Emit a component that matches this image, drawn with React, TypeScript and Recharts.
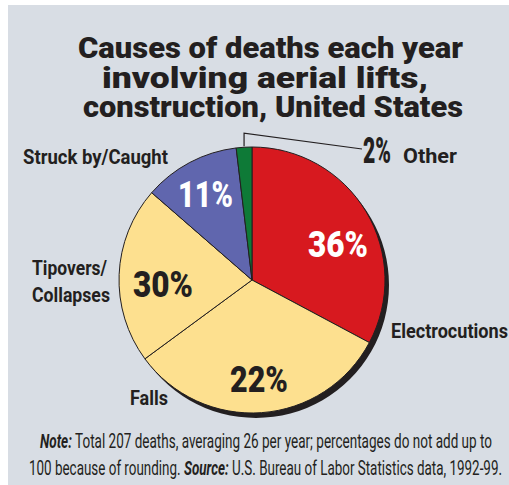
import { PieChart, Pie, Cell } from 'recharts';

// slice order: clockwise from 12 o'clock
const causes = ['Electrocutions', 'Falls', 'Tipovers/\nCollapses', 'Struck by/Caught', 'Other'];
// percentages printed on the graphic
const printedPct = [36, 22, 30, 11, 2];
// slice sizes as they are actually drawn in the graphic (measured angles, % of circle)
const drawnShare = [32.8, 32.1, 21.5, 11.7, 1.9];

const sliceColors = ['#d7191f', '#fde08f', '#fde08f', '#6066ae', '#0e7a37'];
const pctColors = ['#ffffff', '#231f20', '#231f20', '#ffffff', '#231f20'];

const INK = '#231f20';
const BG = '#d8dde4';
const HEAVY = 'Roboto, "Liberation Sans", Arial, sans-serif';
const NARROW = '"Liberation Sans Narrow", Roboto, "Liberation Sans", Arial, sans-serif';

const W = 501;
const H = 480;
const CX = 244;
const CY = 275;
const R = 133;

// label spots relative to pie centre: left x, baseline, forced text width
const pctSpot = [
  { dx: 56, dy: -23, w: 60 },
  { dx: -22, dy: 112, w: 58 },
  { dx: -119, dy: 17, w: 60 },
  { dx: -74, dy: -73, w: 55 },
  { dx: 111, dy: -117, w: 28 },
];
const nameSpot = [
  { dx: 139, dy: 58, w: [117] },
  { dx: -122, dy: 125, w: [38] },
  { dx: -220, dy: -5, w: [75, 78] },
  { dx: -229, dy: -116, w: [145] },
  { dx: 151, dy: -117, w: [54] },
];

const chartData = causes.map((name, i) => ({
  name,
  value: drawnShare[i],
  pct: printedPct[i],
}));

const shadowData = [{ name: 'shadow', value: 1 }];

const RAD = Math.PI / 180;

function renderLabel(props: any) {
  const { cx, cy, index, midAngle, outerRadius } = props;
  const p = pctSpot[index];
  const n = nameSpot[index];
  const lines = String(causes[index]).split('\n');
  let leader = null;
  if (index === 4) {
    const sx = cx + outerRadius * Math.cos(-midAngle * RAD);
    const sy = cy + outerRadius * Math.sin(-midAngle * RAD);
    leader = (
      <polyline
        points={`${sx},${sy - 1} ${sx},${sy - 14} ${cx + p.dx - 1},${cy + p.dy - 14}`}
        fill="none"
        stroke={INK}
        strokeWidth={1.2}
      />
    );
  }
  return (
    <g key={`lbl-${index}`}>
      {leader}
      <text
        x={cx + p.dx}
        y={cy + p.dy}
        fill={pctColors[index]}
        fontFamily={HEAVY}
        fontWeight={900}
        fontSize={36}
        textLength={p.w}
        lengthAdjust="spacingAndGlyphs"
      >
        {printedPct[index]}%
      </text>
      {lines.map((ln, j) => (
        <text
          key={j}
          x={cx + n.dx}
          y={cy + n.dy + j * 27}
          fill={INK}
          fontFamily={NARROW}
          fontWeight={700}
          fontSize={index === 4 ? 20 : 21}
          textLength={n.w[j]}
          lengthAdjust="spacingAndGlyphs"
        >
          {ln}
        </text>
      ))}
    </g>
  );
}

export default function App() {
  return (
    <div style={{ position: 'fixed', left: 8, top: 5, width: W, height: H, background: BG }}>
      <PieChart width={W} height={H} margin={{ top: 0, right: 0, bottom: 0, left: 0 }}>
        <Pie
          data={shadowData}
          dataKey="value"
          cx={CX + 4}
          cy={CY + 5}
          outerRadius={R}
          startAngle={90}
          endAngle={-270}
          fill={INK}
          stroke="none"
          isAnimationActive={false}
        />
        <Pie
          data={chartData}
          dataKey="value"
          nameKey="name"
          cx={CX}
          cy={CY}
          outerRadius={R}
          startAngle={90}
          endAngle={-270}
          stroke={INK}
          strokeWidth={1}
          label={renderLabel}
          labelLine={false}
          isAnimationActive={false}
        >
          {chartData.map((d, i) => (
            <Cell key={d.name} fill={sliceColors[i]} />
          ))}
        </Pie>
      </PieChart>
      <svg
        width={W}
        height={H}
        style={{ position: 'absolute', left: 0, top: 0, pointerEvents: 'none' }}
      >
        <g fill={INK} fontFamily={HEAVY} fontWeight={900} fontSize={30}>
          <text x={70} y={53} textLength={385} lengthAdjust="spacingAndGlyphs">
            Causes of deaths each year
          </text>
          <text x={94} y={83} textLength={326} lengthAdjust="spacingAndGlyphs">
            involving aerial lifts,
          </text>
          <text x={75} y={112} textLength={380} lengthAdjust="spacingAndGlyphs">
            construction, United States
          </text>
        </g>
        <g fill={INK} fontFamily={NARROW} fontWeight={400} fontSize={20}>
          <text x={32} y={443} textLength={452} lengthAdjust="spacingAndGlyphs">
            <tspan fontWeight={700} fontStyle="italic">Note:</tspan> Total 207 deaths, averaging 26 per
            year; percentages do not add up to
          </text>
          <text x={21} y={470} textLength={473} lengthAdjust="spacingAndGlyphs">
            100 because of rounding. <tspan fontWeight={700} fontStyle="italic">Source:</tspan> U.S.
            Bureau of Labor Statistics data, 1992-99.
          </text>
        </g>
      </svg>
    </div>
  );
}
